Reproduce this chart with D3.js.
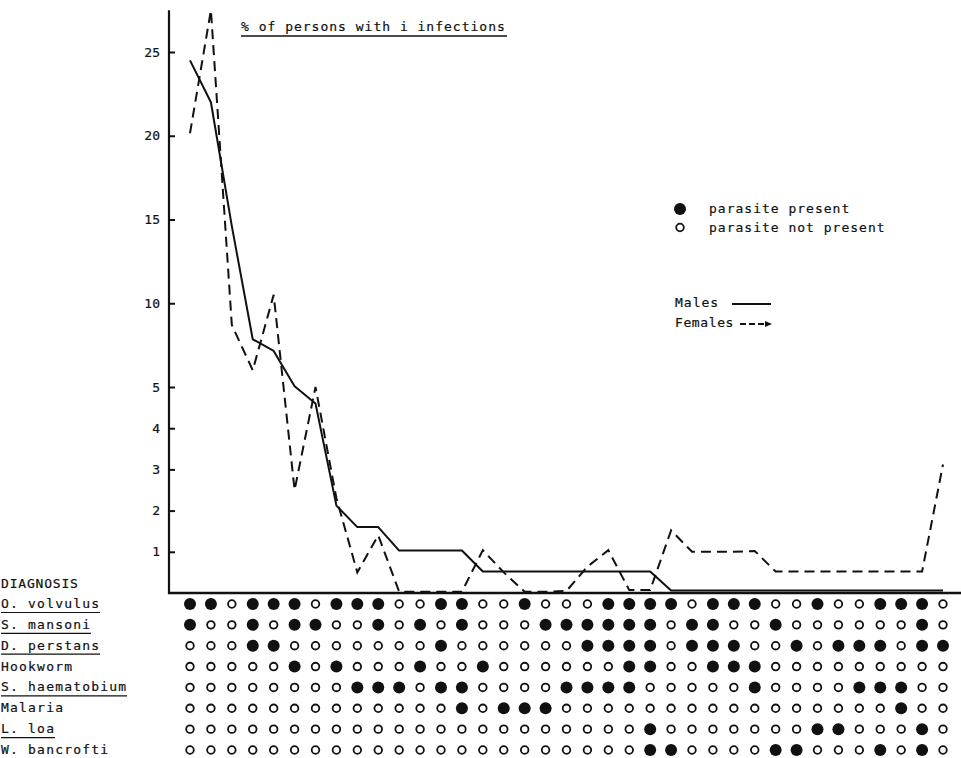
<!DOCTYPE html>
<html>
<head>
<meta charset="utf-8">
<script src="https://cdn.jsdelivr.net/npm/d3@7"></script>
<style>
  html, body { margin: 0; padding: 0; background: #fff; }
  svg { display: block; }
  text { font-family: "DejaVu Sans Mono", "Liberation Mono", monospace; fill: #111; stroke: #111; stroke-width: 0.2px; }
</style>
</head>
<body>
<svg id="chart" width="961" height="758"></svg>
<script>
// Combination index (one column per observed infection pattern)
const combos = d3.range(1, 38);

// % of persons with each combination
const males = [24.5, 22, 14.6, 7.85, 7.15, 5.05, 4.6, 2.12, 1.6, 1.6,
  1.03, 1.03, 1.03, 1.03, 0.52, 0.52, 0.52, 0.52, 0.52, 0.52,
  0.52, 0.52, 0.52, 0.06, 0.06, 0.06, 0.06, 0.06, 0.06, 0.06,
  0.06, 0.06, 0.06, 0.06, 0.06, 0.06, 0.06];
const females = [20.15, 27.5, 8.7, 6.0, 10.5, 2.5, 5.0, 2.3, 0.5, 1.4,
  0.03, 0.03, 0.03, 0.03, 1.04, 0.5, 0.03, 0.03, 0.05, 0.64,
  1.04, 0.07, 0.07, 1.52, 1.0, 1.0, 1.0, 1.02, 0.52, 0.52,
  0.52, 0.52, 0.52, 0.52, 0.52, 0.52, 3.12];

// Diagnoses (rows of the pattern matrix)
const diagnoses = ["O. volvulus", "S. mansoni", "D. perstans", "Hookworm",
  "S. haematobium", "Malaria", "L. loa", "W. bancrofti"];
// underline extent per label, in characters [start, end]; null = none
const underlines = [[0, 11], [0, 10], [0, 11], null, [0, 14], null, [0, 6], [3, 8.6]];

// 1 = parasite present, 0 = not present, one string per diagnosis
const patterns = [
  "1101110111001100100" + "011110111001001110",
  "1001011001010100011" + "111101100100000010",
  "0001100000001000000" + "111101110010111011",
  "0000010100010010000" + "001100111000000000",
  "0000000011101100001" + "111000001000011100",
  "0000000000000101110" + "000000000000000100",
  "0000000000000000000" + "000100000001100010",
  "0000000000000000000" + "000110000110001010"
];

const yTicks = [1, 2, 3, 4, 5, 10, 15, 20, 25];

const svg = d3.select("#chart");

const x = d3.scalePoint().domain(combos).range([190, 943]);
// compressed scale: 0-5 stretched, above 5 condensed
const y = d3.scaleLinear().domain([0, 5, 25]).range([593, 387, 52]);
const row = d3.scalePoint().domain(diagnoses).range([604, 750]);

// y axis
const yAxis = d3.axisLeft(y).tickValues(yTicks).tickSizeInner(-6).tickSizeOuter(0).tickPadding(9)
  .tickFormat(d3.format("d"));
const gy = svg.append("g").attr("transform", "translate(169,0)").call(yAxis);
gy.select(".domain").remove();
gy.selectAll(".tick line").attr("stroke", "#111").attr("stroke-width", 2);
gy.selectAll(".tick text").style("font-size", "13px").attr("fill", "#111")
  .style("font-family", "'DejaVu Sans Mono', monospace");
svg.append("line").attr("x1", 169).attr("x2", 169).attr("y1", y(27.5)).attr("y2", y(0) + 1)
  .attr("stroke", "#111").attr("stroke-width", 2.2);
svg.append("line").attr("x1", 168).attr("x2", 961).attr("y1", y(0)).attr("y2", y(0))
  .attr("stroke", "#111").attr("stroke-width", 2.5);

// title
svg.append("text").attr("x", 241).attr("y", 31)
  .style("font-size", "13px").style("letter-spacing", "1px")
  .text("% of persons with i infections");
svg.append("line").attr("x1", 241).attr("x2", 507).attr("y1", 36).attr("y2", 36)
  .attr("stroke", "#111").attr("stroke-width", 1.3);

// series lines
const line = d3.line().x((d, i) => x(combos[i])).y(d => y(d));
svg.append("path").datum(males).attr("d", line)
  .attr("fill", "none").attr("stroke", "#111").attr("stroke-width", 2).attr("stroke-linejoin", "round");
svg.append("path").datum(females).attr("d", line)
  .attr("fill", "none").attr("stroke", "#111").attr("stroke-width", 2)
  .attr("stroke-dasharray", "10,6");

// legend: parasite markers
svg.append("circle").attr("cx", 680).attr("cy", 209).attr("r", 6).attr("fill", "#111");
svg.append("circle").attr("cx", 680).attr("cy", 227.5).attr("r", 3.8)
  .attr("fill", "#fff").attr("stroke", "#111").attr("stroke-width", 1.8);
svg.append("text").attr("x", 709).attr("y", 213).style("font-size", "13px").style("letter-spacing", "1px")
  .text("parasite present");
svg.append("text").attr("x", 709).attr("y", 232).style("font-size", "13px").style("letter-spacing", "1px")
  .text("parasite not present");

// legend: series
svg.append("text").attr("x", 675).attr("y", 307).style("font-size", "13px").style("letter-spacing", "1px")
  .text("Males");
svg.append("line").attr("x1", 732).attr("x2", 771).attr("y1", 304).attr("y2", 304)
  .attr("stroke", "#111").attr("stroke-width", 2);
svg.append("text").attr("x", 675).attr("y", 327).style("font-size", "13px").style("letter-spacing", "0.6px")
  .text("Females");
svg.append("line").attr("x1", 740).attr("x2", 766).attr("y1", 324).attr("y2", 324)
  .attr("stroke", "#111").attr("stroke-width", 2).attr("stroke-dasharray", "6,3");
svg.append("path").attr("d", "M765,321 L772,324 L765,327 Z").attr("fill", "#111");

// diagnosis labels
svg.append("text").attr("x", 1).attr("y", 588).style("font-size", "13px").style("letter-spacing", "0.8px")
  .text("DIAGNOSIS");
const charW = 9.0;
diagnoses.forEach((name, i) => {
  const yy = row(name);
  svg.append("text").attr("x", 1).attr("y", yy + 4).style("font-size", "13px").style("letter-spacing", "1.2px")
    .text(name);
  const u = underlines[i];
  if (u) {
    svg.append("line").attr("x1", 1 + u[0] * charW).attr("x2", 1 + u[1] * charW)
      .attr("y1", yy + 8.5).attr("y2", yy + 8.5).attr("stroke", "#111").attr("stroke-width", 1.2);
  }
});

// pattern matrix
const cells = [];
patterns.forEach((p, r) => {
  combos.forEach((c, j) => cells.push({ dx: diagnoses[r], c: c, v: +p[j] }));
});
svg.append("g").selectAll("circle").data(cells).join("circle")
  .attr("cx", d => x(d.c))
  .attr("cy", d => row(d.dx))
  .attr("r", d => d.v ? 6 : 3.8)
  .attr("fill", d => d.v ? "#111" : "#fff")
  .attr("stroke", "#111")
  .attr("stroke-width", d => d.v ? 0 : 1.8);
</script>
</body>
</html>
